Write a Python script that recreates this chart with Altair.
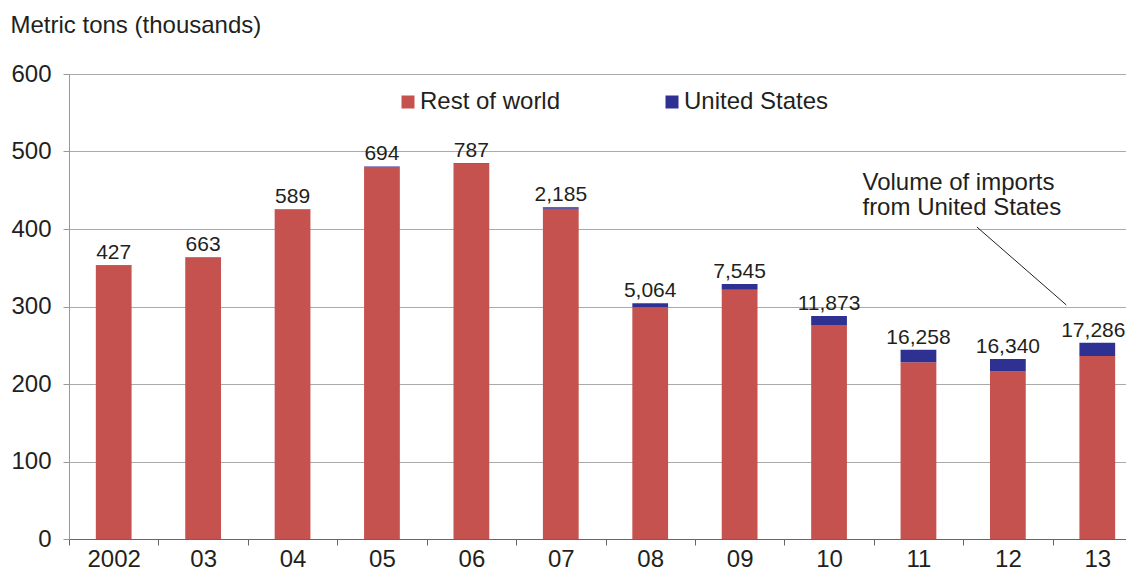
import altair as alt
import pandas as pd

years = ["2002", "03", "04", "05", "06", "07", "08", "09", "10", "11", "12", "13"]
rest_of_world = [353, 363, 425, 480, 484, 426, 299, 321.5, 276, 228, 216, 236]
us_tons = [427, 663, 589, 694, 787, 2185, 5064, 7545, 11873, 16258, 16340, 17286]
series = ["Rest of world", "United States"]
colors = ["#C5524E", "#2E3192"]

note_lines = ["Volume of imports", "from United States"]
note_year = ["11", "11"]
note_y = [450, 418]
pointer_year = ["12", "13"]
pointer_y = [402.6, 302]

FONT = "Liberation Sans"
TXT = "#231F20"

rows = []
for i, yr in enumerate(years):
    rows.append({"year": yr, "series": series[0], "value": rest_of_world[i], "order": 0})
    rows.append({"year": yr, "series": series[1], "value": us_tons[i] / 1000.0, "order": 1})
df = pd.DataFrame(rows)

totals = pd.DataFrame({
    "year": years,
    "total": [r + u / 1000.0 for r, u in zip(rest_of_world, us_tons)],
    "us": us_tons,
})
notes = pd.DataFrame({"year": note_year, "y": note_y, "text": note_lines})
pointer = pd.DataFrame({"year": pointer_year, "y": pointer_y})

xscale = alt.Scale(paddingInner=0, paddingOuter=0, range=[0, 1073])
xenc = alt.X(
    "year:N",
    sort=years,
    scale=xscale,
    axis=alt.Axis(
        title=None, labelAngle=0, tickBand="extent", tickSize=6,
        labelPadding=2, domainColor="#666666", tickColor="#666666",
        labelFont=FONT, labelFontSize=24, labelColor=TXT, grid=False,
    ),
)
yscale = alt.Scale(domain=[0, 600])

bars = alt.Chart(df).mark_bar(width=alt.RelativeBandSize(0.4)).encode(
    x=xenc,
    y=alt.Y(
        "value:Q", stack="zero", scale=yscale,
        axis=alt.Axis(
            values=[0, 100, 200, 300, 400, 500, 600], format="d",
            title="Metric tons (thousands)", titleAngle=0, titleAlign="left",
            titleBaseline="alphabetic", titleX=-59, titleY=-42,
            titleFont=FONT, titleFontSize=24, titleFontWeight="normal", titleColor=TXT,
            labelFont=FONT, labelFontSize=24, labelColor=TXT, labelPadding=12,
            tickSize=6, tickColor="#999999", domainColor="#999999",
            grid=True, gridColor="#AAAAAA", gridWidth=1,
        ),
    ),
    color=alt.Color(
        "series:N",
        scale=alt.Scale(domain=series, range=colors),
        legend=alt.Legend(
            title=None, orient="none", direction="horizontal",
            legendX=327, legendY=16, symbolType="square", symbolSize=169,
            symbolStrokeWidth=0, labelFont=FONT, labelFontSize=24, labelColor=TXT,
            labelOffset=0, columnPadding=99, padding=0, labelLimit=300,
        ),
    ),
    order=alt.Order("order:Q"),
)

label_base = alt.Chart(totals).encode(
    x=alt.X("year:N", sort=years, scale=xscale),
    y=alt.Y("total:Q", scale=yscale),
    text=alt.Text("us:Q", format=","),
)
labels = label_base.mark_text(
    font=FONT, fontSize=21, color=TXT, baseline="alphabetic", dy=-6
).transform_filter(alt.datum.year != "13")
labels_last = label_base.mark_text(
    font=FONT, fontSize=21, color=TXT, baseline="alphabetic", dy=-6, dx=-4
).transform_filter(alt.datum.year == "13")

note = alt.Chart(notes).mark_text(
    font=FONT, fontSize=24, color=TXT, align="left", baseline="alphabetic", xOffset=-56
).encode(
    x=alt.X("year:N", sort=years, scale=xscale),
    y=alt.Y("y:Q", scale=yscale),
    text="text:N",
)

line = alt.Chart(pointer).mark_line(color="#222222", strokeWidth=1, xOffset=-31).encode(
    x=alt.X("year:N", sort=years, scale=xscale),
    y=alt.Y("y:Q", scale=yscale),
)

chart = alt.layer(bars, labels, labels_last, note, line).properties(
    width=1057, height=465,
    autosize=alt.AutoSizeParams(type="none"),
    padding={"left": 61, "top": 66, "right": 0, "bottom": 34},
).configure_view(stroke=None).configure(background="white")

chart.save("out.html", embed_options={"renderer": "svg", "actions": False})
